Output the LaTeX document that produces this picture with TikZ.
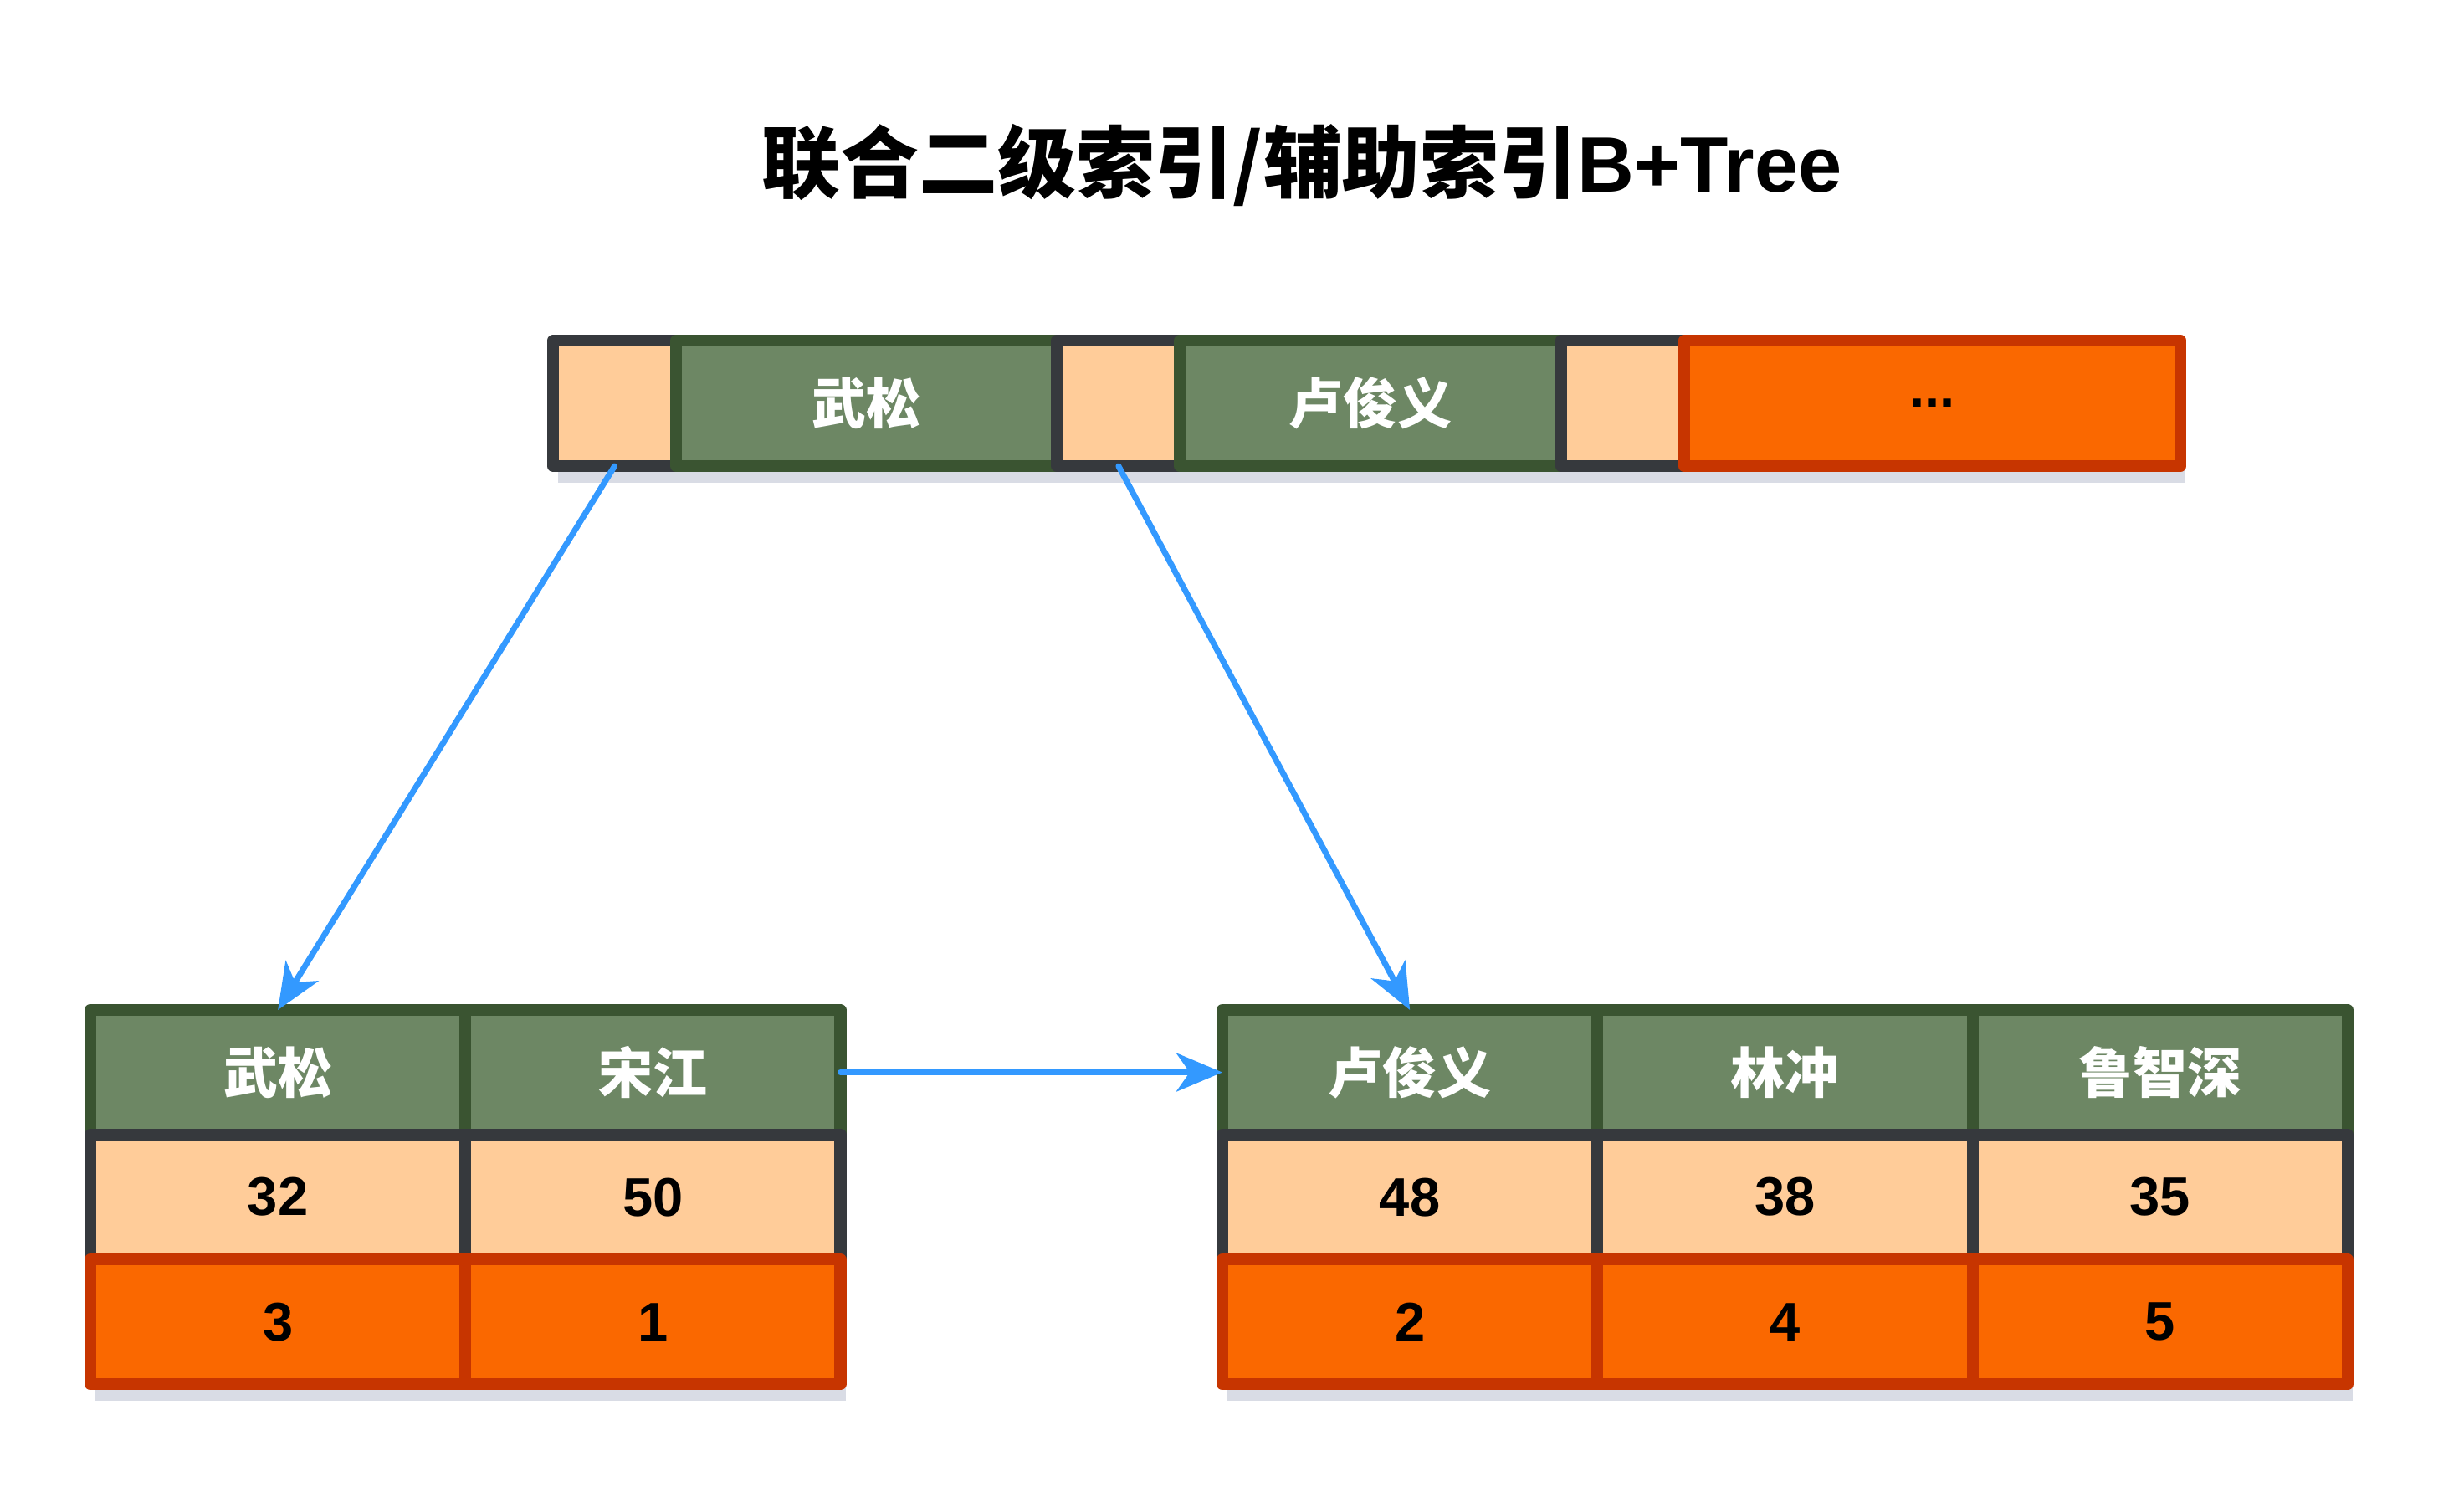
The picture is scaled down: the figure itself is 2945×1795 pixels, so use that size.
\documentclass[tikz,border=0pt]{standalone}
\usepackage{fontspec}
\setmainfont{Liberation Sans}
\newfontfamily\cjk{Noto Sans CJK SC}
\usetikzlibrary{positioning,arrows.meta,shadows}
\definecolor{peach}{HTML}{FFCC99}
\definecolor{peachedge}{HTML}{36393D}
\definecolor{keygreen}{HTML}{6D8764}
\definecolor{keyedge}{HTML}{3A5431}
\definecolor{rowid}{HTML}{FA6800}
\definecolor{rowidedge}{HTML}{C73500}
\definecolor{linkblue}{HTML}{3399FF}
\definecolor{shade}{HTML}{B4B9CC}
\begin{document}
\begin{tikzpicture}[x=0.01cm, y=-0.01cm,
  cell/.style={draw, line width=4pt, line join=round, inner sep=0pt, outer sep=0pt,
    font=\fontsize{18.5}{20}\selectfont\bfseries,
    drop shadow={shadow xshift=0.06cm, shadow yshift=-0.2cm, fill=shade, opacity=0.5}},
  ptr/.style={cell, fill=peach, draw=peachedge, minimum width=1.47cm, minimum height=1.5cm},
  key/.style={cell, fill=keygreen, draw=keyedge, text=white, minimum width=4.55cm, minimum height=1.5cm},
  more/.style={cell, fill=rowid, draw=rowidedge, minimum width=5.93cm, minimum height=1.5cm},
  namecell/.style={cell, fill=keygreen, draw=keyedge, text=white, minimum width=4.48cm, minimum height=1.49cm},
  agecell/.style={cell, fill=peach, draw=peachedge, minimum width=4.48cm, minimum height=1.49cm},
  idcell/.style={cell, fill=rowid, draw=rowidedge, minimum width=4.48cm, minimum height=1.49cm},
  link/.style={draw=linkblue, line width=2pt, line cap=round, -{Stealth[length=0.55cm, width=0.46cm, inset=0.16cm]}}]
  \useasboundingbox (0,0) rectangle (2945,1795);

  \node (title) at (1556,197) [font=\fontsize{26.7}{30}\selectfont\bfseries] {{\cjk 联合二级索引/辅助索引}B+Tree};

  % root page
  \node (P1) [ptr, anchor=north west] at (661,407) {};
  \node (K1) [key, right=0pt of P1] {\cjk 武松};
  \node (P2) [ptr, right=0pt of K1] {};
  \node (K2) [key, right=0pt of P2] {\cjk 卢俊义};
  \node (P3) [ptr, right=0pt of K2] {};
  \node (M) [more, right=0pt of P3] {...};

  % left leaf
  \node (A1) [namecell, anchor=north west] at (108,1207) {\cjk 武松};
  \node (A2) [namecell, right=0pt of A1] {\cjk 宋江};
  \node (A3) [agecell, below=0pt of A1] {32};
  \node (A4) [agecell, below=0pt of A2] {50};
  \node (A5) [idcell, below=0pt of A3] {3};
  \node (A6) [idcell, below=0pt of A4] {1};

  % right leaf
  \node (B1) [namecell, anchor=north west] at (1461,1207) {\cjk 卢俊义};
  \node (B2) [namecell, right=0pt of B1] {\cjk 林冲};
  \node (B3) [namecell, right=0pt of B2] {\cjk 鲁智深};
  \node (B4) [agecell, below=0pt of B1] {48};
  \node (B5) [agecell, below=0pt of B2] {38};
  \node (B6) [agecell, below=0pt of B3] {35};
  \node (B7) [idcell, below=0pt of B4] {2};
  \node (B8) [idcell, below=0pt of B5] {4};
  \node (B9) [idcell, below=0pt of B6] {5};

  \draw[link] (P1.south)--(A1.north);
  \draw[link] (P2.south)--(B1.north);
  \draw[link] (A2.east)--(B1.west);
\end{tikzpicture}
\end{document}
